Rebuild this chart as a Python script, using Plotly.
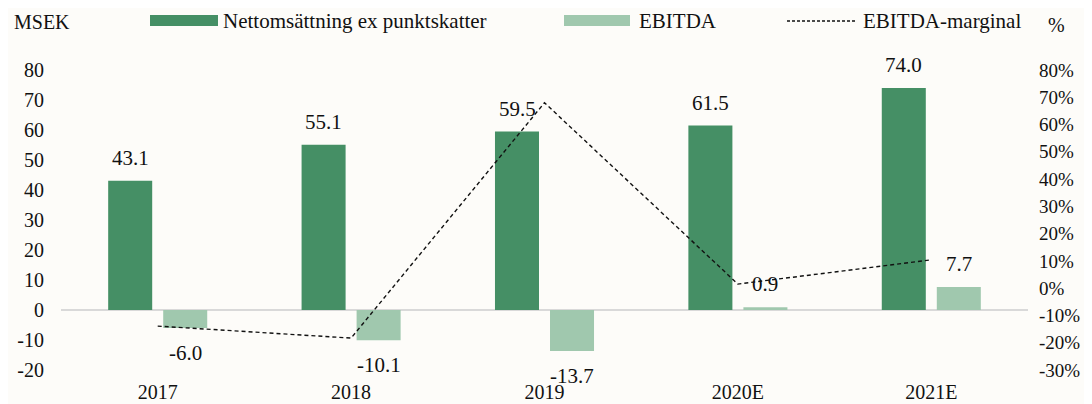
import plotly.graph_objects as go

# ---- data ----
years = ["2017", "2018", "2019", "2020E", "2021E"]
net_sales = [43.1, 55.1, 59.5, 61.5, 74.0]
ebitda = [-6.0, -10.1, -13.7, 0.9, 7.7]
ebitda_margin = [-13.9, -18.3, 68.0, 1.5, 10.4]  # %

# axis ticks (hyphen minus, as in the original)
left_ticks = list(range(-20, 81, 10))
left_labels = [str(t) for t in left_ticks]
right_ticks = list(range(-30, 81, 10))
right_labels = [f"{t}%" for t in right_ticks]

DARK = "#458F65"
LIGHT = "#A0C8AE"
BG = "#FDFCF9"
INK = "#111111"
FONT = "Liberation Serif, Times New Roman, serif"
FS = 21
TICK_FS = 20

# page has an 8px body margin, so the figure is shrunk to fit the window
OFF = 8
W, H = 1092 - OFF, 404 - OFF
M = dict(l=61 - OFF, r=64, t=70 - OFF, b=34)


def px_x(px):
    return (px - OFF - M["l"]) / (W - M["l"] - M["r"])


def px_y(py):
    return (H - M["b"] - (py - OFF)) / (H - M["t"] - M["b"])


fig = go.Figure()
fig.add_trace(go.Bar(x=years, y=net_sales, name="Nettomsättning ex punktskatter",
                     marker_color=DARK, marker_line_width=0))
fig.add_trace(go.Bar(x=years, y=ebitda, name="EBITDA",
                     marker_color=LIGHT, marker_line_width=0))
fig.add_trace(go.Scatter(x=years, y=ebitda_margin, name="EBITDA-marginal", yaxis="y2",
                         mode="lines", line=dict(color=INK, width=1.4, dash="4px,3px")))

annotations = []
for i, v in enumerate(net_sales):
    annotations.append(dict(x=i - 0.142, y=v, xref="x", yref="y", text=f"{v:.1f}",
                            showarrow=False, yanchor="bottom", yshift=9,
                            font=dict(size=FS, color=INK)))
for i, v in enumerate(ebitda):
    annotations.append(dict(x=i + 0.142, y=v, xref="x", yref="y", text=f"{v:.1f}",
                            showarrow=False, yanchor="bottom" if v >= 0 else "top",
                            yshift=9 if v >= 0 else -11,
                            font=dict(size=FS, color=INK)))

# unit labels
annotations.append(dict(x=px_x(12), y=px_y(22), xref="paper", yref="paper", text="MSEK",
                        showarrow=False, xanchor="left", yanchor="middle",
                        font=dict(size=TICK_FS, color=INK)))
annotations.append(dict(x=px_x(1046), y=px_y(25), xref="paper", yref="paper", text="%",
                        showarrow=False, xanchor="left", yanchor="middle",
                        font=dict(size=TICK_FS, color=INK)))

# hand-drawn legend to get the wide Excel-style swatches
shapes = [
    dict(type="rect", xref="paper", yref="paper", x0=px_x(150), x1=px_x(218),
         y0=px_y(26), y1=px_y(15), fillcolor=DARK, line_width=0),
    dict(type="rect", xref="paper", yref="paper", x0=px_x(564), x1=px_x(630),
         y0=px_y(26), y1=px_y(15), fillcolor=LIGHT, line_width=0),
    dict(type="line", xref="paper", yref="paper", x0=px_x(787), x1=px_x(855),
         y0=px_y(21), y1=px_y(21), line=dict(color=INK, width=1.3, dash="3px,2px")),
]
for xpos, label in [(221, "Nettomsättning ex punktskatter"), (637, "EBITDA"),
                    (861, "EBITDA-marginal")]:
    annotations.append(dict(x=px_x(xpos), y=px_y(21), xref="paper", yref="paper", text=label,
                            showarrow=False, xanchor="left", yanchor="middle",
                            font=dict(size=FS, color=INK)))

fig.update_layout(
    width=W, height=H,
    margin=M,
    paper_bgcolor=BG, plot_bgcolor=BG,
    font=dict(family=FONT, size=TICK_FS, color=INK),
    barmode="group", bargap=0.431, bargroupgap=0.2,
    showlegend=False,
    xaxis=dict(showgrid=False, showline=False, ticks="", ticklabelstandoff=8,
               automargin=False),
    yaxis=dict(range=[-20, 80], tickvals=left_ticks, ticktext=left_labels,
               showgrid=False, showline=False,
               zeroline=True, zerolinecolor="#D9D9D9", zerolinewidth=2,
               ticklabelstandoff=16, automargin=False),
    yaxis2=dict(range=[-30, 80], tickvals=right_ticks, ticktext=right_labels,
                overlaying="y", side="right", showgrid=False, zeroline=False,
                tickfont=dict(size=19), ticklabelstandoff=10, automargin=False),
    annotations=annotations,
    shapes=shapes,
)

fig.write_html("out.html")
